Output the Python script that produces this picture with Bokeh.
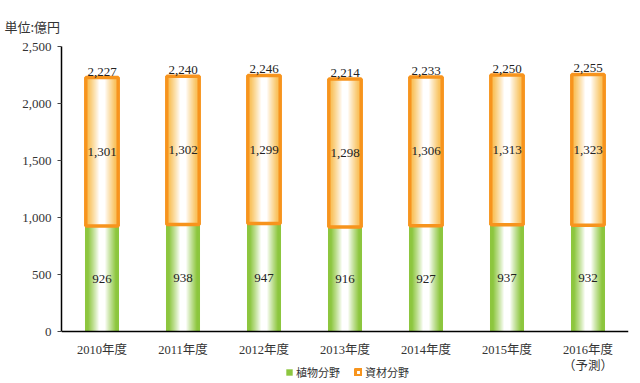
from bokeh.plotting import figure
from bokeh.models import (ColumnDataSource, FactorRange, Range1d, NumeralTickFormatter,
                          FixedTicker, Legend, LegendItem)
from bokeh.core.properties import value
from bokeh.embed import file_html
from bokeh.resources import INLINE

# ---- data ----
years = ["2010年度", "2011年度", "2012年度", "2013年度", "2014年度", "2015年度", "2016年度\n（予測）"]
plant = [926, 938, 947, 916, 927, 937, 932]          # 植物分野
material = [1301, 1302, 1299, 1298, 1306, 1313, 1323]  # 資材分野
totals = [2227, 2240, 2246, 2214, 2233, 2250, 2255]
y_ticks = [0, 500, 1000, 1500, 2000, 2500]
unit_label = "単位:億円"
series_names = ["植物分野", "資材分野"]

SERIF = "'Liberation Serif', 'Noto Sans CJK JP'"
CJK = "'Noto Sans CJK JP'"

src = ColumnDataSource(dict(
    x=years,
    plant=plant,
    total=totals,
    zero=[0] * len(years),
    plant_mid=[v / 2 for v in plant],
    mat_mid=[p_ + m / 2 for p_, m in zip(plant, material)],
    plant_lbl=[f"{v:,}" for v in plant],
    mat_lbl=[f"{v:,}" for v in material],
    tot_lbl=[f"{v:,}" for v in totals],
))

p = figure(width=640, height=383, x_range=FactorRange(factors=years, range_padding=0),
           y_range=Range1d(-456, 2500), output_backend="svg", toolbar_location=None,
           min_border_left=61, min_border_right=12, min_border_top=46, min_border_bottom=0)
p.outline_line_color = None
p.xgrid.grid_line_color = None
p.ygrid.grid_line_color = None
p.background_fill_color = "white"
p.border_fill_color = "white"

p.title.text = unit_label
p.title.align = "left"
p.title.offset = -57
p.title.standoff = 10
p.title.padding = (0, 0, 0, 6)
p.title.text_font = CJK
p.title.text_font_size = "13px"
p.title.text_font_style = "normal"
p.title.text_color = "#333333"


def mix(c1, c2, t):
    a = [int(c1[i:i + 2], 16) for i in (1, 3, 5)]
    b = [int(c2[i:i + 2], 16) for i in (1, 3, 5)]
    return "#%02x%02x%02x" % tuple(round(a[k] * t + b[k] * (1 - t)) for k in range(3))


W = 0.42
N = 17
GREEN = "#8dc63f"
ORANGE_FILL = "#f9c35f"
ORANGE_LINE = "#f7941d"

green_outer = None
for i in range(N):
    d = 1 - i / N
    t = min(1.0, max(0.0, (d - 0.2) / 0.65)) ** 0.9
    r = p.vbar(x="x", bottom="zero", top="plant", width=W * d, source=src,
               fill_color=mix(GREEN, "#ffffff", t), line_color=None)
    if i == 0:
        green_outer = r

Wo = 0.40
for i in range(N):
    d = 1 - i / N
    t = min(1.0, max(0.0, (d - 0.2) / 0.65)) ** 0.9
    p.vbar(x="x", bottom="plant", top="total", width=Wo * d, source=src,
           fill_color=mix(ORANGE_FILL, "#ffffff", t), line_color=None)
orange_outline = p.vbar(x="x", bottom="plant", top="total", width=Wo, source=src,
                        fill_color=None, line_color=ORANGE_LINE, line_width=3.5)

common = dict(source=src, text_font=value("Liberation Serif"), text_font_size="13px",
              text_color="#222222", text_align="center")
p.text(x="x", y="plant_mid", text="plant_lbl", text_baseline="middle", **common)
p.text(x="x", y="mat_mid", text="mat_lbl", text_baseline="middle", **common)
p.text(x="x", y="total", text="tot_lbl", text_baseline="bottom", y_offset=-2, **common)

# axes
yax = p.yaxis[0]
yax.ticker = FixedTicker(ticks=y_ticks)
yax.bounds = (0, 2500)
yax.formatter = NumeralTickFormatter(format="0,0")
yax.axis_line_color = "black"
yax.axis_line_width = 1.5
yax.major_tick_line_color = "#444444"
yax.major_tick_out = 4
yax.major_tick_in = 0
yax.minor_tick_line_color = None
yax.major_label_standoff = 6
yax.major_label_text_font = SERIF
yax.major_label_text_font_size = "13px"
yax.major_label_text_color = "#333333"

xax = p.xaxis[0]
xax.fixed_location = 0
xax.axis_line_color = "black"
xax.axis_line_width = 1.5
xax.major_tick_line_color = None
xax.minor_tick_line_color = None
xax.major_label_standoff = 5
xax.major_label_text_font = SERIF
xax.major_label_text_font_size = "12.5px"
xax.major_label_text_color = "#333333"

legend = Legend(items=[LegendItem(label=series_names[0], renderers=[green_outer]),
                       LegendItem(label=series_names[1], renderers=[orange_outline])],
                orientation="horizontal", location=(224, 3),
                glyph_width=8, glyph_height=8, label_height=12, label_width=40,
                label_standoff=3, spacing=14, padding=0, margin=0,
                border_line_color=None, background_fill_alpha=0,
                label_text_font=CJK, label_text_font_size="11px",
                label_text_color="#333333")
p.add_layout(legend, "center")

open("out.html", "w").write(file_html(p, INLINE))
